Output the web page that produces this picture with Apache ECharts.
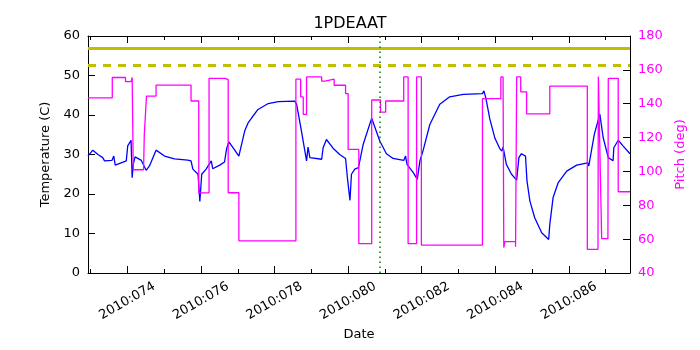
<!DOCTYPE html>
<html>
<head>
<meta charset="utf-8">
<script src="https://cdn.jsdelivr.net/npm/echarts@6/dist/echarts.min.js"></script>
<style>html,body{margin:0;padding:0;background:#fff;}#c{width:700px;height:350px;}</style>
</head>
<body>
<div id="c"></div>
<script>
// Temperature (C) trace
var tempDays = [72.93,73.06,73.20,73.33,73.38,73.42,73.58,73.63,73.67,73.83,73.97,74.01,74.10,74.13,74.16,74.21,74.38,74.51,74.60,74.78,75.01,75.28,75.64,75.73,75.78,75.92,75.97,76.02,76.14,76.28,76.32,76.51,76.64,76.70,76.76,76.88,77.03,77.08,77.19,77.28,77.38,77.55,77.83,78.10,78.55,78.60,78.73,78.87,78.91,78.96,79.28,79.32,79.41,79.59,79.77,79.93,79.98,80.05,80.09,80.18,80.28,80.41,80.64,80.86,81.04,81.22,81.51,81.56,81.60,81.77,81.88,81.95,82.04,82.22,82.49,82.76,83.13,83.65,83.69,83.74,83.85,83.99,84.12,84.18,84.21,84.30,84.44,84.58,84.64,84.71,84.82,84.86,84.94,85.07,85.26,85.45,85.48,85.57,85.71,85.94,86.21,86.51,86.54,86.69,86.84,86.93,87.07,87.20,87.22,87.34,87.47,87.66];
var tempValues = [29.6,31.1,30.0,29.2,28.4,28.7,28.5,29.6,27.3,27.9,28.4,32.2,33.6,24.1,27.5,29.4,28.5,26.0,27.1,31.1,29.6,28.9,28.6,28.4,26.3,25.0,18.1,25.0,26.3,28.4,26.4,27.3,28.1,31.6,33.2,31.6,29.6,31.6,36.0,38.0,39.3,41.4,42.9,43.4,43.5,42.7,36.0,28.4,31.9,29.2,28.8,31.7,33.8,31.6,30.0,29.0,24.1,18.4,25.0,26.3,26.7,32.6,39.2,33.4,30.2,29.0,28.5,29.6,27.5,25.4,23.7,28.4,31.1,37.6,42.7,44.6,45.2,45.4,46.1,44.4,39.0,34.1,31.5,30.9,31.9,27.5,25.0,23.5,29.2,30.2,29.6,23.3,18.2,14.0,10.2,8.5,12.3,19.1,22.9,25.8,27.3,27.9,27.1,35.1,40.2,34.3,29.2,28.4,31.7,33.6,32.2,30.2];

// Pitch (deg) trace
var pitchDays = [72.93,73.59,73.59,73.95,73.95,74.10,74.13,74.16,74.16,74.44,74.46,74.52,74.78,74.78,75.73,75.73,75.94,75.94,76.22,76.22,76.65,76.65,76.74,76.74,77.03,77.03,78.58,78.58,78.71,78.71,78.78,78.78,78.87,78.87,79.28,79.28,79.37,79.37,79.62,79.62,79.93,79.93,80.00,80.00,80.29,80.29,80.64,80.64,80.88,80.88,81.02,81.02,81.51,81.51,81.63,81.63,81.86,81.86,81.99,81.99,83.65,83.65,84.15,84.15,84.21,84.23,84.26,84.55,84.55,84.58,84.69,84.69,84.85,84.85,85.48,85.48,86.50,86.50,86.79,86.80,86.84,86.89,87.06,87.07,87.34,87.34,87.66];
var pitchValues = [143.5,143.5,155.5,155.5,153,153,155.5,155.5,101,101,122,144.5,144.5,151,151,141.6,141.6,87.3,87.3,155,155,154.2,154.2,87.4,87.4,59,59,154.5,154.5,144,144,133.7,133.7,155.8,155.8,153.4,153.4,154.5,154.5,150.9,150.9,146,146,113,113,57.3,57.3,142.2,142.2,135,135,141.6,141.6,155.8,155.8,57.3,57.3,155.8,155.8,56.5,56.5,143,143,155.8,155.8,55,58.5,58.5,55.5,155.8,155.8,147,147,134,134,150.4,150.4,54,54,156,155,60.3,60.3,155,155,88,88];

// Reference lines
var limitSolid = 57;
var limitDashed = 52.5;
var markerDay = 80.86;

var xMin = 72.93, xMax = 87.66;
var majorDays = [74,76,78,80,82,84,86];
var minorDays = [73,75,77,79,81,83,85,87];

function zip(a,b){var r=[];for(var i=0;i<a.length;i++)r.push([a[i],b[i]]);return r;}
function fmtDay(v){var d=Math.round(v);return '2010:'+('00'+d).slice(-3);}

var FONT = 'DejaVu Sans';
var chart = echarts.init(document.getElementById('c'), null, {renderer:'canvas'});

function xAx(pos, ticks, len, showLine, showLabel){
  return {
    type:'value', min:xMin, max:xMax, position:pos,
    axisLine:{show:showLine, onZero:false, lineStyle:{color:'#000', width:1}},
    axisTick:{show:true, inside:true, length:len, customValues:ticks, lineStyle:{color:'#000'}},
    axisLabel:showLabel ? {show:true, customValues:ticks, formatter:fmtDay, rotate:30, align:'center', verticalAlign:'middle', margin:28, color:'#000', fontFamily:FONT, fontSize:13} : {show:false},
    splitLine:{show:false}
  };
}

var xAxes = [
  xAx('bottom', majorDays, 7, true, true),
  xAx('bottom', minorDays, 4, false, false),
  xAx('top', majorDays, 7, true, false),
  xAx('top', minorDays, 4, false, false)
];
xAxes[0].name = 'Date';
xAxes[0].nameLocation = 'middle';
xAxes[0].nameGap = 54;
xAxes[0].nameTextStyle = {color:'#000', fontFamily:FONT, fontSize:13};

var option = {
  animation:false,
  backgroundColor:'#fff',
  title:{text:'1PDEAAT', left:'center', top:11, textStyle:{fontFamily:FONT, fontSize:16, fontWeight:'normal', color:'#000'}},
  grid:{left:88, right:70, top:36, bottom:77, containLabel:false},
  xAxis:xAxes,
  yAxis:[
    {type:'value', position:'left', min:0, max:60, interval:10,
     name:'Temperature (C)', nameLocation:'middle', nameRotate:90, nameGap:29,
     nameTextStyle:{color:'#000', fontFamily:FONT, fontSize:13},
     axisLine:{show:true, lineStyle:{color:'#000'}},
     axisTick:{show:true, inside:true, length:7, lineStyle:{color:'#000'}},
     axisLabel:{color:'#000', fontFamily:FONT, fontSize:13, margin:8},
     splitLine:{show:false}},
    {type:'value', position:'right', min:40, max:180, interval:20,
     name:'Pitch (deg)', nameLocation:'middle', nameRotate:90, nameGap:33,
     nameTextStyle:{color:'#ff00ff', fontFamily:FONT, fontSize:13},
     axisLine:{show:true, lineStyle:{color:'#000'}},
     axisTick:{show:true, inside:true, length:7, lineStyle:{color:'#000'}},
     axisLabel:{color:'#ff00ff', fontFamily:FONT, fontSize:13, margin:8},
     splitLine:{show:false}}
  ],
  series:[
    {type:'line', name:'Temperature', xAxisIndex:0, yAxisIndex:0, data:zip(tempDays,tempValues),
     showSymbol:false, lineStyle:{color:'#0000ff', width:1.3}, itemStyle:{color:'#0000ff'},
     markLine:{silent:true, symbol:['none','none'], label:{show:false},
       data:[
         {yAxis:limitSolid, lineStyle:{color:'#bfbf00', width:3, type:'solid'}},
         {yAxis:limitDashed, lineStyle:{color:'#bfbf00', width:3, type:[8,7]}},
         {xAxis:markerDay, lineStyle:{color:'#008000', width:1.5, type:[1.5,3.5]}}
       ]}},
    {type:'line', name:'Pitch', xAxisIndex:0, yAxisIndex:1, data:zip(pitchDays,pitchValues),
     showSymbol:false, lineStyle:{color:'#ff00ff', width:1.3}, itemStyle:{color:'#ff00ff'}}
  ]
};
chart.setOption(option);
</script>
</body>
</html>
